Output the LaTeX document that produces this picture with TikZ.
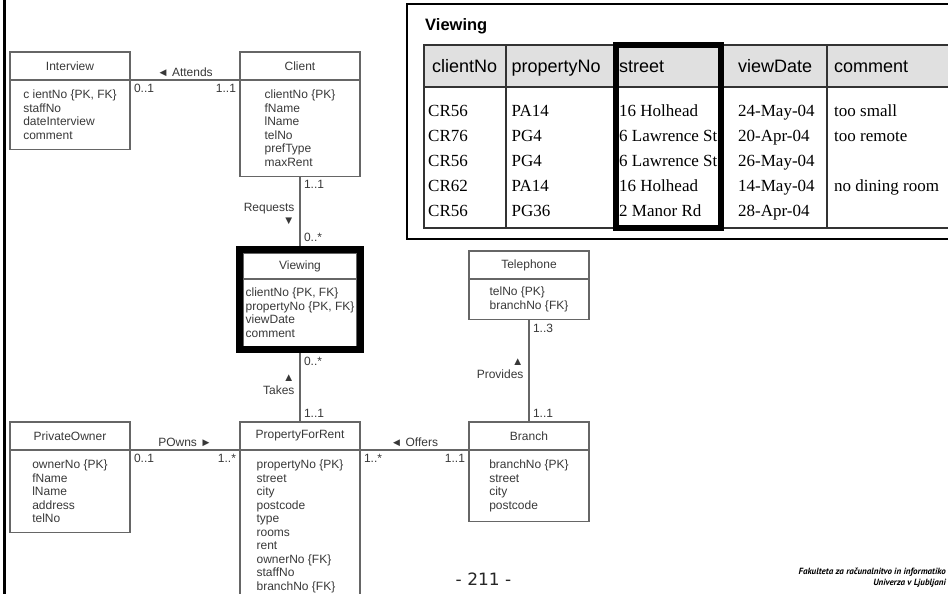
\documentclass[tikz,border=0pt]{standalone}
\usepackage{fontspec}
\setmainfont{Liberation Sans}
\newfontfamily\tabserif{Liberation Serif}
\newfontfamily\pagefont{DejaVu Sans}
\newfontfamily\footfont{PT Sans}
\usetikzlibrary{positioning,fit,calc}
\definecolor{umlline}{gray}{0.4}
\definecolor{umltext}{gray}{0.22}
\definecolor{headfill}{gray}{0.88}
\newcommand{\umlsize}{\fontsize{12}{13.5}\selectfont}
\newcommand{\tri}[1]{{\fontsize{11.5}{12}\selectfont #1}}
\tikzset{clshead/.style={draw=umlline, line width=1.1pt, outer sep=0pt, inner sep=0pt,
    minimum width=120pt, minimum height=28pt, text=umltext, font=\umlsize},
  clsbody/.style={draw=umlline, line width=1.1pt, outer sep=0pt, inner xsep=0pt, inner ysep=10pt,
    minimum width=120pt, align=left, text=umltext, font=\umlsize},
  conn/.style={draw=umlline, line width=1.1pt},
  mult/.style={inner sep=3.5pt, text=umltext, font=\umlsize},
  role/.style={inner sep=3pt, text=umltext, font=\umlsize},
  colhead/.style={anchor=base west, inner sep=0pt, font=\fontsize{18}{20}\selectfont},
  cell/.style={anchor=base west, inner sep=0pt, font=\tabserif\fontsize{17}{20}\selectfont},
  tabline/.style={draw=black!80, line width=1.4pt}
}

\begin{document}
\begin{tikzpicture}[x=1pt,y=-1pt]
	\useasboundingbox (0,0) rectangle (948,594);
	\clip (0,0) rectangle (948,594);
	\draw[line width=3pt] (4.2,0) -- (4.2,594);
	% classes
	\node[clshead] (interview-h) at (70,66) {Interview};
	\node[clsbody, below=0pt of interview-h] (interview) {c ientNo \{PK, FK\}\\staffNo\\dateInterview\\comment};
	\node[clshead] (client-h) at (300,66) {Client};
	\node[clsbody, below=0pt of client-h] (client) {clientNo \{PK\}\\fName\\lName\\telNo\\prefType\\maxRent};
	\node[clshead, minimum width=114pt, minimum height=26pt] (viewing-h) at (300,266) {Viewing};
	\node[clsbody, minimum width=114pt, inner ysep=9pt, below=0pt of viewing-h] (viewing) {clientNo \{PK, FK\}\\propertyNo \{PK, FK\}\\viewDate\\comment};
	\node[fit=(viewing-h)(viewing), draw, line width=7pt, inner sep=3.5pt] (viewing-frame) {};
	\node[clshead] (phone-h) at (529,265) {Telephone};
	\node[clsbody, inner ysep=8pt, below=0pt of phone-h] (phone) {telNo \{PK\}\\branchNo \{FK\}};
	\node[clshead] (owner-h) at (70,436) {PrivateOwner};
	\node[clsbody, below=0pt of owner-h] (owner) {ownerNo \{PK\}\\fName\\lName\\address\\telNo};
	\node[clshead] (prop-h) at (300,436) {PropertyForRent};
	\node[clsbody, below=0pt of prop-h] (prop) {propertyNo \{PK\}\\street\\city\\postcode\\type\\rooms\\rent\\ownerNo \{FK\}\\staffNo\\branchNo \{FK\}};
	\node[clshead] (branch-h) at (529,436) {Branch};
	\node[clsbody, below=0pt of branch-h] (branch) {branchNo \{PK\}\\street\\city\\postcode};
	% associations
	\draw[conn] (interview-h.south east) -- node[role, above] (attends) {\tri{◄} Attends}
		node[mult, pos=0, anchor=north west] (m-att1) {0..1} node[mult, pos=1, anchor=north east] (m-att2) {1..1} (client-h.south west);
	\draw[conn] (client.south) -- node[role, pos=0.54, anchor=east, align=right, inner xsep=5pt] (requests) {Requests\\\tri{▼}}
		node[mult, pos=0, anchor=north west] (m-req1) {1..1} node[mult, pos=1, anchor=south west] (m-req2) {0..*} (viewing-frame.north);
	\draw[conn] (viewing-frame.south) -- node[role, pos=0.46, anchor=east, align=right, inner xsep=5pt] (takes) {\tri{▲}\\Takes}
		node[mult, pos=0, anchor=north west] (m-tak1) {0..*} node[mult, pos=1, anchor=south west] (m-tak2) {1..1} (prop-h.north);
	\draw[conn] (phone.south) -- node[role, pos=0.48, anchor=east, align=right, inner xsep=5pt] (provides) {\tri{▲}\\Provides}
		node[mult, pos=0, anchor=north west] (m-pro1) {1..3} node[mult, pos=1, anchor=south west] (m-pro2) {1..1} (branch-h.north);
	\draw[conn] (owner-h.south east) -- node[role, above] (powns) {POwns \tri{►}}
		node[mult, pos=0, anchor=north west] (m-own1) {0..1} node[mult, pos=1, anchor=north east] (m-own2) {1..*} (prop-h.south west);
	\draw[conn] (prop-h.south east) -- node[role, above] (offers) {\tri{◄} Offers}
		node[mult, pos=0, anchor=north west] (m-off1) {1..*} node[mult, pos=1, anchor=north east] (m-off2) {1..1} (branch-h.south west);
	% table
	\draw[line width=1.3pt] (407,4) rectangle (960,239);
	\node[anchor=base west, inner sep=0pt, font=\bfseries\fontsize{16.5}{18}\selectfont] (tab-title) at (425,31) {Viewing};
	\fill[headfill] (424,45) rectangle (960,87);
	\draw[tabline] (424,45) rectangle (960,228);
	\draw[tabline] (424,87) -- (960,87);
	\draw[tabline] (506,45) -- (506,228);
	\draw[tabline] (827,45) -- (827,228);
	\node[colhead] (h-client) at (432,73) {clientNo};
	\node[colhead] (h-prop) at (511.5,73) {propertyNo};
	\node[colhead] (h-street) at (619,73) {street};
	\node[colhead] (h-date) at (738,73) {viewDate};
	\node[colhead] (h-comment) at (834,73) {comment};
	\node[cell] (r1-client) at (428,116) {CR56};
	\node[cell] (r1-prop) at (511.5,116) {PA14};
	\node[cell] (r1-street) at (619,116) {16 Holhead};
	\node[cell] (r1-date) at (738,116) {24-May-04};
	\node[cell] (r1-comment) at (834,116) {too small};
	\node[cell] (r2-client) at (428,141) {CR76};
	\node[cell] (r2-prop) at (511.5,141) {PG4};
	\node[cell] (r2-street) at (619,141) {6 Lawrence St};
	\node[cell] (r2-date) at (738,141) {20-Apr-04};
	\node[cell] (r2-comment) at (834,141) {too remote};
	\node[cell] (r3-client) at (428,166) {CR56};
	\node[cell] (r3-prop) at (511.5,166) {PG4};
	\node[cell] (r3-street) at (619,166) {6 Lawrence St};
	\node[cell] (r3-date) at (738,166) {26-May-04};
	\node[cell] (r4-client) at (428,191) {CR62};
	\node[cell] (r4-prop) at (511.5,191) {PA14};
	\node[cell] (r4-street) at (619,191) {16 Holhead};
	\node[cell] (r4-date) at (738,191) {14-May-04};
	\node[cell] (r4-comment) at (834,191) {no dining room};
	\node[cell] (r5-client) at (428,216) {CR56};
	\node[cell] (r5-prop) at (511.5,216) {PG36};
	\node[cell] (r5-street) at (619,216) {2 Manor Rd};
	\node[cell] (r5-date) at (738,216) {28-Apr-04};
	\draw[line width=6.5pt] (616,45) rectangle (721,228);
	% footer
	\node[anchor=base, inner sep=0pt, text=black!85, font=\pagefont\fontsize{17}{18}\selectfont] (page) at (483.5,585) {- 211 -};
	\node[anchor=base east, inner sep=0pt, font=\footfont\bfseries\itshape\fontsize{9}{10}\selectfont] (faculty) at (946,574) {Fakulteta za računalnitvo in informatiko};
	\node[anchor=base east, inner sep=0pt, font=\footfont\bfseries\itshape\fontsize{9}{10}\selectfont] (univ) at (946,585) {Univerza v Ljubljani};
\end{tikzpicture}
\end{document}
